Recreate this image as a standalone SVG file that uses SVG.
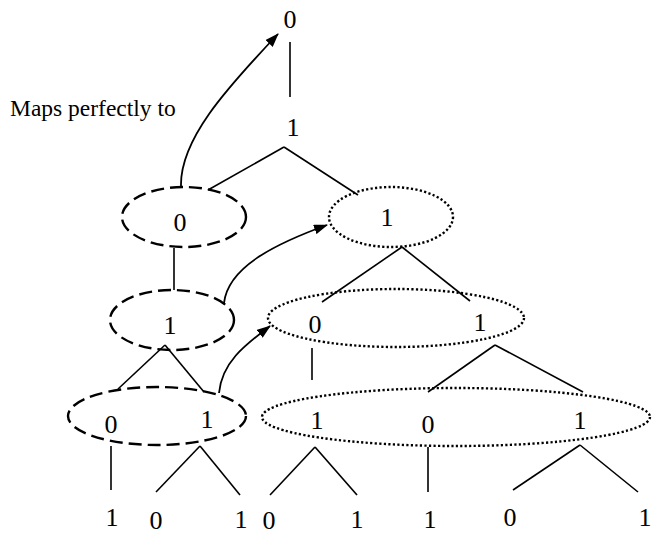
<svg xmlns="http://www.w3.org/2000/svg" width="652" height="534" viewBox="0 0 652 534">
<style>
text{font-family:"Liberation Serif","Times New Roman",serif;fill:#000}
.d{font-size:26px;text-anchor:middle}
.lbl{font-size:23.5px}
.ln{stroke:#000;stroke-width:1.6;fill:none}
.dash{fill:none;stroke:#000;stroke-width:2.4;stroke-dasharray:13 6}
.dot{fill:none;stroke:#000;stroke-width:2.4;stroke-dasharray:2.2 2.3}
.arr{fill:none;stroke:#000;stroke-width:1.8;marker-end:url(#ah)}
</style>
<defs>
<marker id="ah" viewBox="0 0 14 10" refX="13" refY="5" markerWidth="14" markerHeight="10" markerUnits="userSpaceOnUse" orient="auto">
<path d="M0,0 L14,5 L0,10 Z" fill="#000"/>
</marker>
</defs>
<rect width="652" height="534" fill="#fff"/>
<text class="lbl" x="10" y="116">Maps perfectly to</text>
<g id="connectors">
<line class="ln" x1="290" y1="42" x2="290" y2="97"/>
<line class="ln" x1="284" y1="147" x2="208" y2="190"/>
<line class="ln" x1="284" y1="147" x2="358" y2="195"/>
<line class="ln" x1="174" y1="248" x2="174" y2="290"/>
<line class="ln" x1="165" y1="345" x2="118" y2="389"/>
<line class="ln" x1="165" y1="345" x2="204" y2="392"/>
<line class="ln" x1="111" y1="446" x2="111" y2="490"/>
<line class="ln" x1="200" y1="446" x2="156" y2="492"/>
<line class="ln" x1="200" y1="446" x2="240" y2="495"/>
<line class="ln" x1="402" y1="247" x2="322" y2="302"/>
<line class="ln" x1="402" y1="247" x2="470" y2="301"/>
<line class="ln" x1="312" y1="348" x2="312" y2="380"/>
<line class="ln" x1="495" y1="345" x2="428" y2="392"/>
<line class="ln" x1="495" y1="345" x2="583" y2="392"/>
<line class="ln" x1="315" y1="447" x2="270" y2="495"/>
<line class="ln" x1="315" y1="447" x2="357" y2="495"/>
<line class="ln" x1="428" y1="447" x2="428" y2="492"/>
<line class="ln" x1="580" y1="445" x2="513" y2="490"/>
<line class="ln" x1="580" y1="445" x2="638" y2="492"/>
<path class="arr" d="M181,186 C180,140 225,90 278,34"/>
<path class="arr" d="M224,303 C228,268 272,245 327,225"/>
<path class="arr" d="M219,393 C222,362 245,345 270,326"/>
</g>
<g id="n-top0"><text class="d" x="290" y="28">0</text></g>
<g id="n-top1"><text class="d" x="293" y="136">1</text></g>
<g id="e1"><ellipse class="dash" cx="184" cy="217" rx="62" ry="30"/><text class="d" x="180" y="231">0</text></g>
<g id="e2"><ellipse class="dash" cx="172" cy="320" rx="62" ry="30"/><text class="d" x="170" y="334">1</text></g>
<g id="e3"><ellipse class="dash" cx="157" cy="416" rx="89" ry="29"/><text class="d" x="111" y="433">0</text><text class="d" x="207" y="428">1</text></g>
<g id="eA"><ellipse class="dot" cx="391" cy="217" rx="62" ry="30"/><text class="d" x="387" y="226">1</text></g>
<g id="eB"><ellipse class="dot" cx="396" cy="318" rx="128" ry="29"/><text class="d" x="315" y="333">0</text><text class="d" x="480" y="331">1</text></g>
<g id="eC"><ellipse class="dot" cx="456" cy="417" rx="194" ry="29"/><text class="d" x="317" y="429">1</text><text class="d" x="428" y="433">0</text><text class="d" x="580" y="429">1</text></g>
<g id="leaves">
<text class="d" x="112" y="526">1</text>
<text class="d" x="156" y="529">0</text>
<text class="d" x="241" y="528">1</text>
<text class="d" x="269" y="529">0</text>
<text class="d" x="357" y="528">1</text>
<text class="d" x="430" y="528">1</text>
<text class="d" x="510" y="526">0</text>
<text class="d" x="645" y="526">1</text>
</g>
</svg>
